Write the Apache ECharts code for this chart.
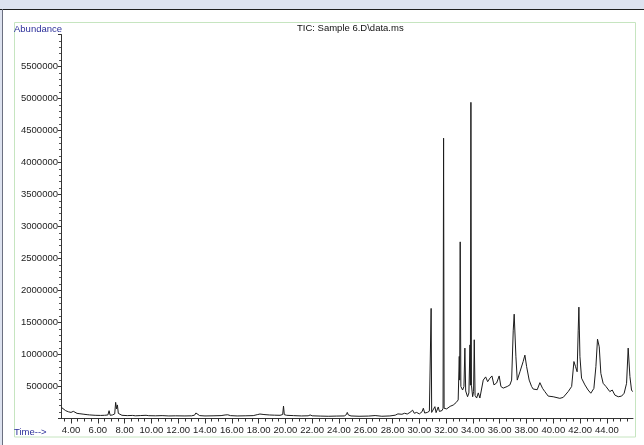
<!DOCTYPE html>
<html>
<head>
<meta charset="utf-8">
<title>TIC: Sample 6.D\data.ms</title>
<script src="https://cdn.jsdelivr.net/npm/echarts@6/dist/echarts.min.js"></script>
<style>
  html, body { margin: 0; padding: 0; background: #fff; }
  #chart { width: 644px; height: 445px; }
</style>
</head>
<body>
<div id="chart"></div>
<script>
// retention time (min)
var rt = [
  3.27, 3.4, 3.6, 3.8, 4.0, 4.1, 4.17, 4.24, 4.45, 4.52, 4.6, 4.9, 5.2, 5.28, 5.38, 5.8, 6.2, 6.5,
  6.75, 6.84, 6.92, 7.1, 7.26, 7.33, 7.4, 7.46, 7.53, 7.62, 7.8, 8.2, 8.6, 8.8, 9.2, 9.6, 9.8,
  10.3, 10.8, 11.3, 11.8, 12.5, 13.0, 13.22, 13.32, 13.45, 13.6, 14.0, 14.6, 15.2, 15.5, 15.7,
  15.9, 16.4, 17.0, 17.6, 17.9, 18.1, 18.4, 18.8, 19.2, 19.6, 19.8, 19.86, 19.92, 20.1, 20.6,
  21.2, 21.7, 21.85, 22.0, 22.6, 23.2, 23.8, 24.4, 24.55, 24.62, 24.7, 24.9, 25.5, 26.2, 26.7,
  27.2, 27.8, 28.2, 28.4, 28.7, 28.9, 29.1, 29.3, 29.5, 29.62, 29.8, 30.0, 30.2, 30.3, 30.4,
  30.6, 30.75, 30.84, 30.88, 30.92, 31.0, 31.16, 31.25, 31.41, 31.5, 31.7, 31.77, 31.81, 31.85,
  32.04, 32.3, 32.53, 32.75, 32.9, 32.98, 33.01, 33.05, 33.1, 33.23, 33.33, 33.4, 33.46, 33.6,
  33.7, 33.78, 33.81, 33.85, 33.89, 33.98, 34.05, 34.1, 34.16, 34.28, 34.4, 34.52, 34.65, 34.77,
  34.95, 35.1, 35.27, 35.42, 35.57, 35.77, 35.96, 36.09, 36.26, 36.56, 36.76, 36.89, 37.01,
  37.08, 37.21, 37.31, 37.38, 37.51, 37.63, 37.75, 37.88, 38.01, 38.2, 38.38, 38.5, 38.63, 38.8,
  39.0, 39.2, 39.37, 39.62, 39.99, 40.49, 40.74, 41.11, 41.37, 41.54, 41.66, 41.78, 41.86, 41.91,
  41.99, 42.11, 42.36, 42.6, 42.8, 43.03, 43.18, 43.3, 43.43, 43.55, 43.72, 43.93, 44.05, 44.22,
  44.4, 44.6, 44.85, 45.1, 45.29, 45.47, 45.59, 45.72, 45.84, 45.92
];
var abundance = [
  175000, 150000, 122000, 105000, 95000, 90000, 112000, 86000, 80000, 108000, 76000, 68000, 60000, 74000, 56000, 50000, 48000, 50000,
  55000, 122000, 50000, 56000, 72000, 252000, 150000, 212000, 80000, 60000, 50000, 45000, 48000, 42000, 46000, 50000, 44000,
  42000, 45000, 40000, 42000, 40000, 42000, 52000, 86000, 60000, 45000, 40000, 42000, 45000, 55000, 58000,
  45000, 40000, 42000, 45000, 60000, 70000, 62000, 55000, 52000, 50000, 62000, 195000, 60000, 50000, 45000,
  40000, 42000, 55000, 42000, 38000, 35000, 38000, 40000, 60000, 95000, 55000, 40000, 35000, 38000, 46000,
  35000, 40000, 52000, 72000, 66000, 82000, 70000, 95000, 130000, 82000, 95000, 72000, 105000, 160000, 85000,
  95000, 115000, 105000, 1720000, 95000, 85000, 185000, 92000, 180000, 110000, 125000, 160000, 4380000, 160000,
  150000, 190000, 210000, 250000, 290000, 970000, 600000, 2760000, 500000, 445000, 500000, 1100000, 430000, 340000,
  400000, 1150000, 520000, 4940000, 520000, 340000, 420000, 1230000, 360000, 320000, 400000, 320000, 320000, 600000,
  650000, 575000, 630000, 665000, 525000, 555000, 665000, 500000, 475000, 500000, 525000, 600000, 1380000,
  1630000, 965000, 600000, 575000, 730000, 760000, 890000, 990000, 810000, 600000, 500000, 460000, 445000, 450000,
  560000, 470000, 420000, 350000, 340000, 315000, 330000, 420000, 500000, 890000, 810000, 730000, 1380000, 1740000,
  965000, 630000, 525000, 445000, 395000, 470000, 810000, 1240000, 1120000, 705000, 550000, 500000, 500000, 420000,
  445000, 365000, 340000, 350000, 395000, 550000, 1100000, 655000, 445000, 420000
];
var timeLabels = [4, 6, 8, 10, 12, 14, 16, 18, 20, 22, 24, 26, 28, 30, 32, 34, 36, 38, 40, 42, 44];

var timeMin = 3.25, timeMax = 45.95;
var minorTicks = [];
for (var t = 3.5; t <= 45.5; t += 0.5) minorTicks.push(t);

var font = 'Liberation Sans, Arial, sans-serif';
var chart = echarts.init(document.getElementById('chart'), null, { renderer: 'canvas' });

var option = {
  backgroundColor: '#fff',
  animation: false,
  title: {
    text: 'TIC: Sample 6.D\\data.ms',
    left: 297,
    top: 23,
    padding: 0,
    textStyle: { fontFamily: font, fontSize: 9.5, fontWeight: 'normal', color: '#111' }
  },
  graphic: [
    { type: 'rect', shape: { x: 0, y: 0, width: 644, height: 9 }, style: { fill: '#dde2ef' }, silent: true },
    { type: 'rect', shape: { x: 0, y: 0, width: 2, height: 445 }, style: { fill: '#dde2ef' }, silent: true },
    { type: 'line', shape: { x1: 0, y1: 9.5, x2: 644, y2: 9.5 }, style: { stroke: '#1e1e1e', lineWidth: 1 }, silent: true },
    { type: 'line', shape: { x1: 2.5, y1: 9, x2: 2.5, y2: 445 }, style: { stroke: '#6b6f80', lineWidth: 1 }, silent: true },
    { type: 'rect', shape: { x: 14.5, y: 22.5, width: 621, height: 414.5 }, style: { fill: null, stroke: '#c6e5c0', lineWidth: 1 }, silent: true },
    { type: 'text', x: 14, y: 29, style: { text: 'Abundance', fontFamily: font, fontSize: 9.5, fill: '#2b2f9a', verticalAlign: 'middle' }, silent: true },
    { type: 'text', x: 14, y: 432, style: { text: 'Time-->', fontFamily: font, fontSize: 9.5, fill: '#2b2f9a', verticalAlign: 'middle' }, silent: true }
  ],
  grid: { left: 61, right: 11, top: 34.5, bottom: 26.5, containLabel: false, outerBoundsMode: 'none' },
  xAxis: [
    {
      type: 'value',
      min: timeMin,
      max: timeMax,
      position: 'bottom',
      axisLine: { show: true, lineStyle: { color: '#333', width: 1 } },
      axisTick: { show: true, customValues: timeLabels, length: 5, lineStyle: { color: '#333' } },
      axisLabel: {
        customValues: timeLabels,
        formatter: function (v) { return v.toFixed(2); },
        fontFamily: font, fontSize: 9.5, color: '#222', margin: 7
      },
      splitLine: { show: false }
    },
    {
      type: 'value',
      min: timeMin,
      max: timeMax,
      position: 'bottom',
      axisLine: { show: false },
      axisTick: { show: true, customValues: minorTicks, length: 3, lineStyle: { color: '#333' } },
      axisLabel: { show: false },
      splitLine: { show: false }
    }
  ],
  yAxis: {
    type: 'value',
    min: 0,
    max: 6000000,
    interval: 500000,
    axisLine: { show: true, lineStyle: { color: '#333', width: 1 } },
    axisTick: { show: true, length: 3, lineStyle: { color: '#333' } },
    minorTick: { show: true, splitNumber: 5, length: 2, lineStyle: { color: '#555' } },
    axisLabel: {
      showMinLabel: false,
      showMaxLabel: false,
      formatter: function (v) { return String(v); },
      fontFamily: font, fontSize: 9.5, color: '#222', margin: 3
    },
    splitLine: { show: false }
  },
  series: [{
    type: 'line',
    xAxisIndex: 0,
    showSymbol: false,
    symbol: 'none',
    lineStyle: { color: '#1c1c1c', width: 1 },
    data: rt.map(function (t, i) { return [t, abundance[i]]; })
  }]
};

chart.setOption(option);
</script>
</body>
</html>
